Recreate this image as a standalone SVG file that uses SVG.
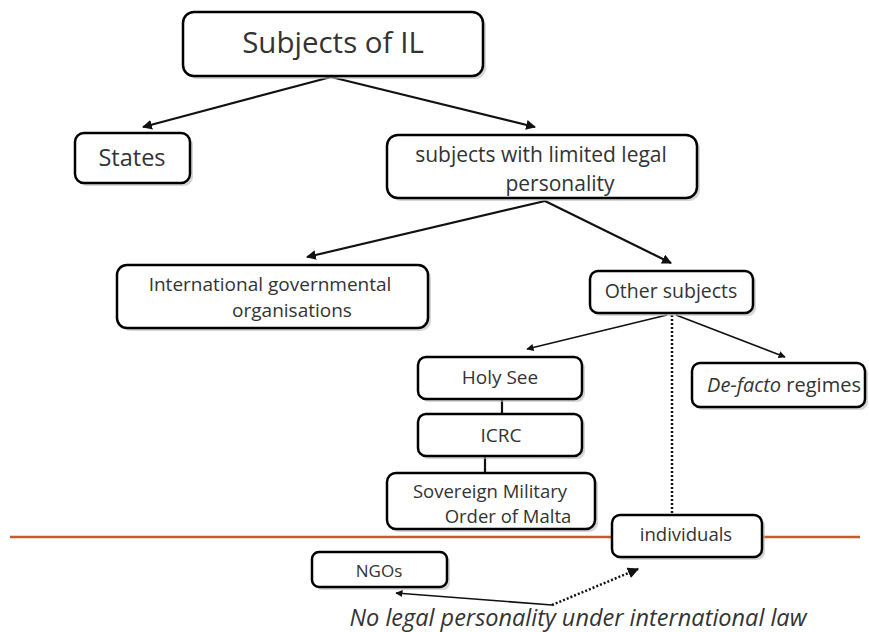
<svg xmlns="http://www.w3.org/2000/svg" width="869" height="632" viewBox="0 0 869 632">
<style>
.box{fill:#fff;stroke:#000;stroke-width:2.5}
.sh{fill:#bbb;opacity:0.6}
text{font-family:"Open Sans","Liberation Sans",sans-serif;fill:#333;text-anchor:middle}
.ln{stroke:#111;stroke-width:2.2;fill:none}
.thin{stroke:#111;stroke-width:1.6;fill:none}
.dot{stroke:#111;stroke-width:2.5;fill:none;stroke-dasharray:2 2}
</style>
<defs>
<marker id="ah" viewBox="0 0 10 10" refX="9" refY="5" markerWidth="4.5" markerHeight="4.5" orient="auto"><path d="M0,0 L10,5 L0,10 z" fill="#111"/></marker>
</defs>
<rect width="869" height="632" fill="#fff"/>
<line x1="10" y1="537" x2="860" y2="537" stroke="#c55a2c" stroke-width="2.5"/>
<g id="connectors">
<line class="ln" x1="331" y1="77" x2="143" y2="127" marker-end="url(#ah)"/>
<line class="ln" x1="331" y1="77" x2="535" y2="127" marker-end="url(#ah)"/>
<line class="ln" x1="545" y1="201" x2="307" y2="257" marker-end="url(#ah)"/>
<line class="ln" x1="545" y1="201" x2="671" y2="263" marker-end="url(#ah)"/>
<line class="thin" x1="667" y1="315" x2="527" y2="349" marker-end="url(#ah)"/>
<line class="thin" x1="676" y1="315" x2="785" y2="357" marker-end="url(#ah)"/>
<line class="dot" x1="672" y1="315" x2="672" y2="528" marker-end="url(#ah)"/>
<line class="ln" x1="502" y1="399" x2="502" y2="414"/>
<line class="ln" x1="485" y1="456" x2="485" y2="473"/>
<line class="thin" x1="552" y1="605" x2="396" y2="593" marker-end="url(#ah)"/>
<line class="dot" x1="552" y1="605" x2="638" y2="569" marker-end="url(#ah)"/>
</g>
<g id="n-subjects"><rect class="sh" x="186" y="15" width="300" height="64" rx="11"/><rect class="box" x="183" y="12" width="300" height="64" rx="11"/><text x="333" y="53" font-size="29.5">Subjects of IL</text></g>
<g id="n-states"><rect class="sh" x="78" y="136" width="115" height="50" rx="9"/><rect class="box" x="75" y="133" width="115" height="50" rx="9"/><text x="132" y="166" font-size="23.5">States</text></g>
<g id="n-limited"><rect class="sh" x="390" y="138" width="310" height="63" rx="11"/><rect class="box" x="387" y="135" width="310" height="63" rx="11"/><text x="541" y="162" font-size="21">subjects with limited legal</text><text x="560" y="191" font-size="21">personality</text></g>
<g id="n-igo"><rect class="sh" x="120" y="268" width="311" height="63" rx="10"/><rect class="box" x="117" y="265" width="311" height="63" rx="10"/><text x="270" y="291" font-size="19">International governmental</text><text x="292" y="317" font-size="19">organisations</text></g>
<g id="n-other"><rect class="sh" x="593" y="274" width="163" height="42" rx="8"/><rect class="box" x="590" y="271" width="163" height="42" rx="8"/><text x="671" y="298" font-size="19.5">Other subjects</text></g>
<g id="n-holysee"><rect class="sh" x="421" y="360" width="164" height="42" rx="8"/><rect class="box" x="418" y="357" width="164" height="42" rx="8"/><text x="500" y="384" font-size="19">Holy See</text></g>
<g id="n-icrc"><rect class="sh" x="421" y="417" width="164" height="42" rx="8"/><rect class="box" x="418" y="414" width="164" height="42" rx="8"/><text x="501" y="442" font-size="19">ICRC</text></g>
<g id="n-defacto"><rect class="sh" x="695" y="366" width="173" height="44" rx="8"/><rect class="box" x="692" y="363" width="173" height="44" rx="8"/><text x="784" y="392" font-size="20"><tspan font-style="italic">De-facto</tspan> regimes</text></g>
<g id="n-smom"><rect class="sh" x="390" y="476" width="208" height="56" rx="9"/><rect class="box" x="387" y="473" width="208" height="56" rx="9"/><text x="490" y="498" font-size="18.5">Sovereign Military</text><text x="508" y="523" font-size="18.5">Order of Malta</text></g>
<g id="n-individuals"><rect class="sh" x="615" y="518" width="150" height="42" rx="8"/><rect class="box" x="612" y="515" width="150" height="42" rx="8"/><text x="686" y="541" font-size="18.5">individuals</text></g>
<g id="n-ngos"><rect class="sh" x="315" y="555" width="135" height="35" rx="7"/><rect class="box" x="312" y="552" width="135" height="35" rx="7"/><text x="379" y="577" font-size="17">NGOs</text></g>
<text x="578" y="626" font-size="23.5" font-style="italic">No legal personality under international law</text>
</svg>
